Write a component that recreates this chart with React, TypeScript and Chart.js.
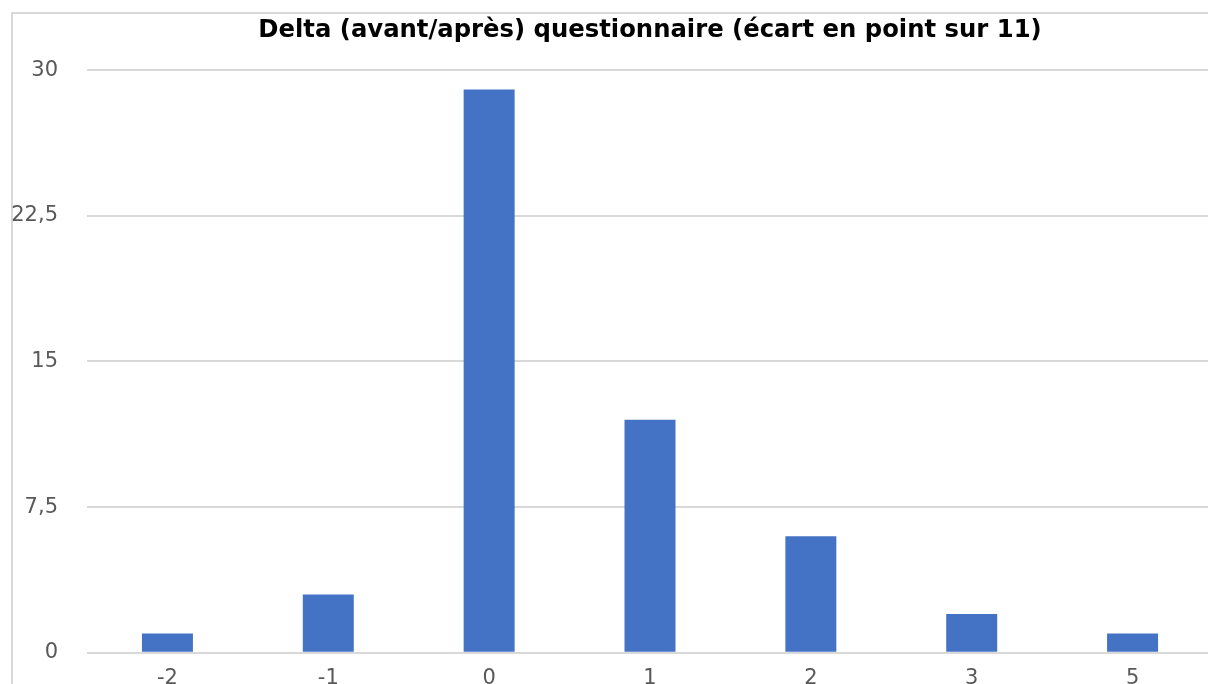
import React, { useEffect, useRef } from "react";
import { Chart, registerables } from "chart.js";

Chart.register(...registerables);

const chartTitle = "Delta (avant/après) questionnaire (écart en point sur 11)";
const categories = ["-2", "-1", "0", "1", "2", "3", "5"];
const counts = [1, 3, 29, 12, 6, 2, 1];
const yMin = 0;
const yMax = 30;
const yStep = 7.5;

export default function App() {
  const canvasRef = useRef<HTMLCanvasElement | null>(null);

  useEffect(() => {
    const canvas = canvasRef.current;
    if (!canvas) return;
    const chart = new Chart(canvas, {
      type: "bar",
      data: {
        labels: categories,
        datasets: [
          {
            data: counts,
            backgroundColor: "#4472C4",
            borderWidth: 0,
            categoryPercentage: 1,
            barPercentage: 0.317,
          },
        ],
      },
      options: {
        responsive: false,
        animation: false,
        devicePixelRatio: 1,
        layout: { padding: { left: 0, right: 0, top: 0, bottom: 0 } },
        plugins: {
          legend: { display: false },
          tooltip: { enabled: false },
          title: {
            display: true,
            fullSize: false,
            text: chartTitle,
            color: "#000000",
            font: { family: "'DejaVu Sans', sans-serif", size: 24.3, weight: "bold", lineHeight: 1.2 },
            padding: { top: 16, bottom: 25 },
          },
        },
        scales: {
          x: {
            grid: { display: false, drawTicks: false },
            border: { display: false },
            ticks: {
              color: "#595959",
              font: { family: "'DejaVu Sans', sans-serif", size: 21 },
              padding: 13,
              maxRotation: 0,
              autoSkip: false,
            },
          },
          y: {
            min: yMin,
            max: yMax,
            afterFit: (scale: any) => {
              scale.width = 87;
            },
            grid: { color: "#d9d9d9", lineWidth: 2, drawTicks: false },
            border: { display: false },
            ticks: {
              stepSize: yStep,
              color: "#595959",
              font: { family: "'DejaVu Sans', sans-serif", size: 21 },
              padding: 29,
              callback: (v: any) => String(v).replace(".", ","),
            },
          },
        },
      },
    });
    return () => chart.destroy();
  }, []);

  return (
    <div
      style={{
        position: "fixed",
        left: 0,
        top: 0,
        width: 1208,
        height: 684,
        overflow: "hidden",
        background: "#ffffff",
      }}
    >
      <div
        style={{
          position: "absolute",
          left: 11,
          top: 12,
          width: 1300,
          height: 800,
          borderLeft: "2px solid #d9d9d9",
          borderTop: "2px solid #d9d9d9",
        }}
      />
      <canvas
        ref={canvasRef}
        width={1213}
        height={704}
        style={{ position: "absolute", left: 0, top: 0, display: "block" }}
      />
    </div>
  );
}
